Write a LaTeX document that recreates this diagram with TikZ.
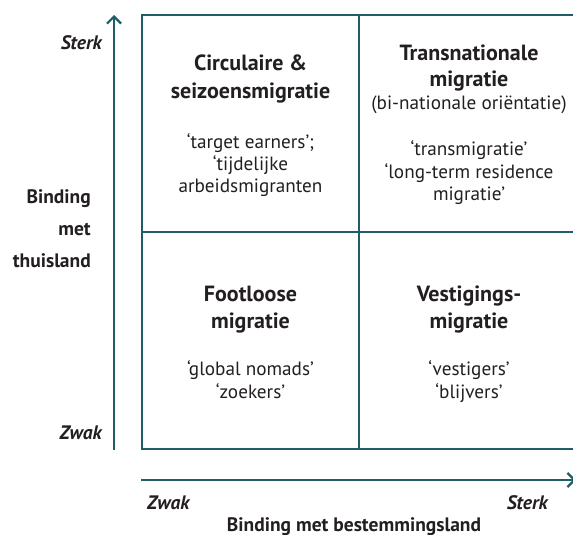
\documentclass[tikz,border=0pt]{standalone}
\usepackage{fontspec}
\setmainfont{PT Sans}
\usetikzlibrary{arrows.meta}
\definecolor{axcol}{HTML}{1F5D68}
\definecolor{ink}{HTML}{231F20}
\tikzset{
  frame/.style={draw=axcol, line width=2.2pt},
  axis/.style={draw=axcol, line width=2.2pt, -{Straight Barb[length=7pt,width=14pt]}},
  ttl/.style={anchor=base, inner sep=0pt, text=ink, font=\fontsize{22}{26}\selectfont\bfseries},
  sub/.style={anchor=base, inner sep=0pt, text=ink, font=\fontsize{19.2}{23}\selectfont},
  lab/.style={inner sep=0pt, text=ink, font=\fontsize{19.5}{23}\selectfont\bfseries},
  ilab/.style={inner sep=0pt, text=ink, font=\fontsize{19.5}{23}\selectfont\bfseries\itshape},
}
\begin{document}
\begin{tikzpicture}[x=1pt,y=-1pt]
\clip (0,0) rectangle (573,535);
\fill[white] (0,0) rectangle (573,535);
% grid corners
\coordinate (nw) at (142,15);
\coordinate (se) at (577,449);
\coordinate (mt) at (359,15);
\coordinate (mb) at (359,449);
\coordinate (ml) at (142,232);
\coordinate (mr) at (577,232);
\draw[frame] (nw) rectangle (se);
\draw[frame] (mt) -- (mb);
\draw[frame] (ml) -- (mr);
% axes
\coordinate (ya) at (114,450);
\coordinate (yb) at (114,15);
\coordinate (xa) at (141,480);
\coordinate (xb) at (576,480);
\draw[axis] (ya) -- (yb);
\draw[axis] (xa) -- (xb);
% top-left
\node[ttl] (tl1) at (250.5,70.5) {Circulaire \&};
\node[ttl] (tl2) at (250.5,98) {seizoensmigratie};
\node[sub] (tl3) at (250.5,148) {‘target earners’;};
\node[sub] (tl4) at (250.5,170) {‘tijdelijke};
\node[sub] (tl5) at (250.5,192) {arbeidsmigranten};
% top-right
\node[ttl] (tr1) at (469,60) {Transnationale};
\node[ttl] (tr2) at (469,87) {migratie};
\node[sub] (tr3) at (469,110) {(bi-nationale oriëntatie)};
\node[sub] (tr4) at (469,155) {‘transmigratie’};
\node[sub] (tr5) at (469,178) {‘long-term residence};
\node[sub] (tr6) at (469,200) {migratie’};
% bottom-left
\node[ttl] (bl1) at (250.5,301.5) {Footloose};
\node[ttl] (bl2) at (250.5,328.5) {migratie};
\node[sub] (bl3) at (250.5,375) {‘global nomads’};
\node[sub] (bl4) at (250.5,398) {‘zoekers’};
% bottom-right
\node[ttl] (br1) at (469,301.5) {Vestigings-};
\node[ttl] (br2) at (469,328.5) {migratie};
\node[sub] (br3) at (469,375) {‘vestigers’};
\node[sub] (br4) at (469,398) {‘blijvers’};
% axis labels
\node[ilab, anchor=base east] (ysterk) at (102,50) {Sterk};
\node[ilab, anchor=base east] (yzwak) at (102,439) {Zwak};
\node[lab, anchor=base east] (yl1) at (91,203) {Binding};
\node[lab, anchor=base east] (yl2) at (91,235) {met};
\node[lab, anchor=base east] (yl3) at (91,267) {thuisland};
\node[ilab, anchor=base west] (xzwak) at (147,509) {Zwak};
\node[ilab, anchor=base east] (xsterk) at (548,509) {Sterk};
\node[lab, anchor=base] (xl) at (354,531) {Binding met bestemmingsland};
\end{tikzpicture}
\end{document}
